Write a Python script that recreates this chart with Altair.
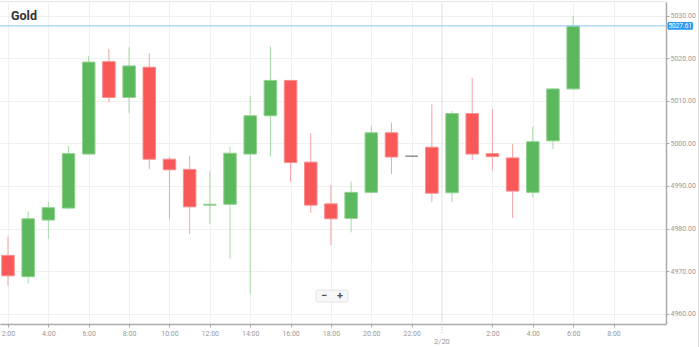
import altair as alt
import pandas as pd
import numpy as np

# ---- data (hourly candles, slot 0 = 2:00 on 2/19) ----
slot = list(range(29))
open_ = [4973.7, 4968.7, 4982.0, 4984.8, 4997.5, 5019.2, 5010.8, 5017.9, 4996.3, 4993.9,
         4985.5, 4985.7, 4997.5, 5006.5, 5014.8, 4995.6, 4985.8, 4982.4, 4988.5, 5002.5,
         4997.0, 4999.1, 4988.4, 5007.0, 4997.6, 4996.6, 4988.5, 5000.6, 5012.8]
high = [4978.1, 4984.0, 4986.2, 4999.4, 5020.6, 5022.2, 5022.6, 5021.2, 4996.8, 4997.1,
        4993.6, 4999.2, 5011.1, 5022.8, 5014.9, 5002.4, 4990.2, 4991.0, 5004.2, 5004.9,
        4997.0, 5009.2, 5007.6, 5015.4, 5008.1, 4999.8, 5003.9, 5012.8, 5030.0]
low = [4966.5, 4967.1, 4977.6, 4984.6, 4997.4, 5009.6, 5007.1, 4993.9, 4982.2, 4978.7,
       4981.1, 4972.9, 4964.6, 4996.9, 4991.0, 4983.7, 4976.1, 4979.1, 4988.4, 4992.8,
       4997.0, 4986.2, 4986.2, 4996.1, 4993.6, 4982.5, 4987.3, 4998.7, 5012.7]
close = [4968.9, 4982.3, 4984.9, 4997.6, 5019.1, 5010.8, 5018.2, 4996.3, 4993.8, 4985.1,
         4985.7, 4997.7, 5006.5, 5014.8, 4995.5, 4985.5, 4982.3, 4988.5, 5002.5, 4996.8,
         4997.0, 4988.3, 5007.0, 4997.5, 4996.9, 4988.8, 5000.4, 5012.8, 5027.61]

x_tick_slots = [0, 2, 4, 6, 8, 10, 12, 14, 16, 18, 20, 24, 26, 28, 30]
y_ticks = [4960, 4970, 4980, 4990, 5000, 5010, 5020, 5030]
day_break_slot = [21.5]
day_label = ["2/20"]
title_text = "Gold"
last_price = close[-1]

df = pd.DataFrame(dict(t=slot, open=open_, high=high, low=low, close=close))
o = np.array(open_); c = np.array(close)
df["dir"] = np.where(c > o, "up", np.where(c < o, "down", "flat"))

W, H = 666, 322
FONT = "Roboto"
xs = alt.Scale(domain=[-0.396, 32.6], nice=False, zero=False, padding=0)
ys = alt.Scale(domain=[4957.58, 5033.22], nice=False, zero=False, padding=0)

x_axis = alt.Axis(values=x_tick_slots, labelExpr="((datum.value + 2) % 24) + ':00'",
                  grid=True, gridColor="#f0f0f0", gridWidth=1,
                  tickSize=3, tickColor="#aaaaaa", domainColor="#aaaaaa", domainWidth=1.5,
                  labelFontSize=7, labelColor="#999999", labelPadding=2, labelFont=FONT,
                  labelFlush=False, labelOverlap=False, title=None)
y_axis = alt.Axis(orient="right", values=y_ticks, format=".2f",
                  grid=True, gridColor="#f0f0f0", gridWidth=1,
                  tickSize=3, tickColor="#aaaaaa", domainColor="#aaaaaa", domainWidth=1.5,
                  labelFontSize=7, labelColor="#999999", labelPadding=1, labelFont=FONT,
                  labelFlush=False, labelOverlap=False, title=None)

base = alt.Chart(df)

grid = base.mark_point(opacity=0).encode(
    x=alt.X("t:Q", scale=xs, axis=x_axis),
    y=alt.Y("close:Q", scale=ys, axis=y_axis),
)

sep_df = pd.DataFrame(dict(t=day_break_slot, label=day_label))
sep = alt.Chart(sep_df).mark_rule(color="#e0e0e0", strokeWidth=1).encode(
    x=alt.X("t:Q", scale=xs))
sep_tick = alt.Chart(sep_df).mark_rule(color="#bbbbbb", strokeWidth=1, strokeDash=[1, 1.5]).encode(
    x=alt.X("t:Q", scale=xs), y=alt.value(H), y2=alt.value(H + 10))
sep_label = alt.Chart(sep_df).mark_text(fontSize=7.5, color="#999999", font=FONT, baseline="middle").encode(
    x=alt.X("t:Q", scale=xs), y=alt.value(H + 18), text="label:N")

wick_colors = alt.Scale(domain=["up", "down", "flat"], range=["#a6d9a6", "#f7a3a3", "#999999"])
body_fill = alt.Scale(domain=["up", "down", "flat"], range=["#5cb85c", "#f85858", "#8a8a8a"])
body_stroke = alt.Scale(domain=["up", "down", "flat"], range=["#8fd08f", "#fa8c8c", "#8a8a8a"])

wicks = base.mark_rule(strokeWidth=1).encode(
    x=alt.X("t:Q", scale=xs),
    y=alt.Y("low:Q", scale=ys),
    y2="high:Q",
    color=alt.Color("dir:N", scale=wick_colors, legend=None),
)
bodies = base.mark_bar(width=12.5, strokeWidth=1).encode(
    x=alt.X("t:Q", scale=xs),
    y=alt.Y("open:Q", scale=ys),
    y2="close:Q",
    fill=alt.Fill("dir:N", scale=body_fill, legend=None),
    stroke=alt.Stroke("dir:N", scale=body_stroke, legend=None),
)

price_line = alt.Chart(pd.DataFrame(dict(p=[last_price]))).mark_rule(
    color="#a3d2f5", strokeWidth=1.3).encode(y=alt.Y("p:Q", scale=ys))

tag_df = pd.DataFrame(dict(p=[last_price], top=[last_price + 0.92], bot=[last_price - 0.92],
                           txt=[f"{last_price:.2f}"]))
price_tag = alt.Chart(tag_df).mark_rect(fill="#2a9af0", cornerRadius=1.5).encode(
    x=alt.value(W + 1.5), x2=alt.value(W + 27),
    y=alt.Y("top:Q", scale=ys), y2="bot:Q")
price_txt = alt.Chart(tag_df).mark_text(fontSize=6.5, color="white", font=FONT, baseline="middle").encode(
    x=alt.value(W + 14.2), y=alt.Y("p:Q", scale=ys), text="txt:N")

frame_df = pd.DataFrame(dict(a=[0]))
top_border = alt.Chart(frame_df).mark_rule(color="#e6e6e6", strokeWidth=1).encode(
    x=alt.value(0), x2=alt.value(W), y=alt.value(-0.5))
right_border = alt.Chart(frame_df).mark_rule(color="#dddddd", strokeWidth=1).encode(
    x=alt.value(W + 32.5), y=alt.value(-2), y2=alt.value(H + 23))

title = alt.Chart(pd.DataFrame(dict(s=[title_text]))).mark_text(
    fontSize=12.5, fontWeight="bold", color="#333333", font="Liberation Sans Narrow, Roboto",
    align="left", baseline="alphabetic").encode(
    x=alt.value(11), y=alt.value(18), text="s:N")

btn_df = pd.DataFrame(dict(s=["−", "+"], px=[324, 340]))
btn_box = alt.Chart(frame_df).mark_rect(
    fill="#f7f7f7", stroke="#e4e4e4", strokeWidth=1, cornerRadius=2).encode(
    x=alt.value(316), x2=alt.value(348), y=alt.value(288), y2=alt.value(300))
btn_txt = alt.Chart(btn_df).mark_text(fontSize=11, fontWeight="bold", color="#555555",
                                      font=FONT, baseline="middle").encode(
    x=alt.X("px:Q", scale=None), y=alt.value(294), text="s:N")

chart = alt.layer(
    grid, sep, sep_tick, sep_label, top_border, right_border, wicks, bodies, price_line,
    price_tag, price_txt, title, btn_box, btn_txt
).properties(
    width=W, height=H,
    autosize=alt.AutoSizeParams(type="none"),
    padding={"left": 0, "top": 2, "right": 33, "bottom": 23},
    background="white",
).configure_view(stroke=None)

chart.save("out.html", embed_options={"renderer": "svg", "actions": False})
